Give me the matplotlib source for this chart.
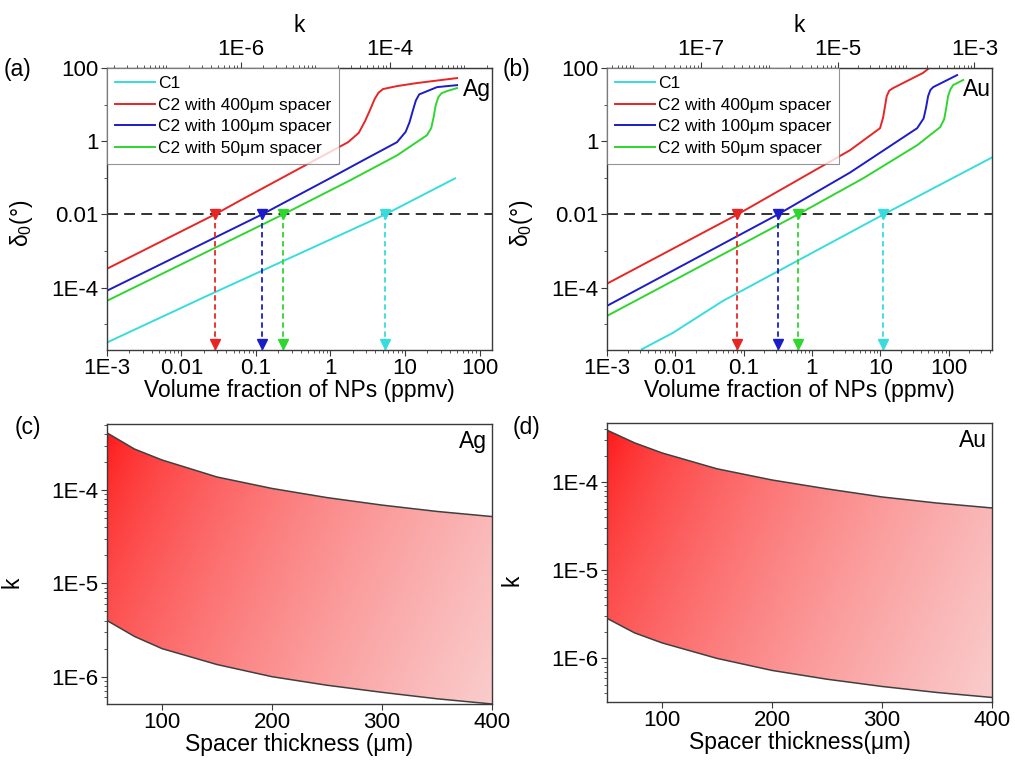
import numpy as np
import matplotlib.pyplot as plt
from matplotlib.patches import Polygon
from matplotlib.ticker import LogLocator, FixedLocator, NullFormatter

plt.rcParams['font.family'] = ['Liberation Sans', 'DejaVu Sans']
plt.rcParams['mathtext.fontset'] = 'custom'
plt.rcParams['mathtext.rm'] = 'Liberation Sans'
plt.rcParams['mathtext.it'] = 'Liberation Sans:italic'

# ---- data ----
labels = ['C1', 'C2 with 400\u03bcm spacer', 'C2 with 100\u03bcm spacer', 'C2 with 50\u03bcm spacer']
colors = ['#38dcdc', '#e82525', '#1c1cc8', '#2ed62e']
threshold = 0.01

# (a) Ag: delta0 vs volume fraction (ppmv)
ag_c1_x = [1e-3, 0.022, 5.4, 47]
ag_c1_y = [3.2e-6, 6.0e-5, 0.01, 0.097]
ag_400_x = [1e-3, 0.028, 0.061, 1.72, 2.4, 2.9, 3.39, 3.9, 4.4, 5.07, 7.8, 14.5, 50]
ag_400_y = [3.3e-4, 0.01, 0.024, 0.94, 1.7, 3.5, 7.1, 14, 21, 26.6, 32, 38.8, 53]
ag_100_x = [1e-3, 0.12, 0.98, 2.73, 7.8, 10.2, 11.5, 12.8, 14.0, 15.5, 18.5, 26.9, 50]
ag_100_y = [8.3e-5, 0.01, 0.097, 0.30, 0.94, 1.8, 3.3, 7.1, 13, 19, 22, 30, 34]
ag_50_x = [1e-3, 0.23, 1.82, 7.8, 19.7, 22.5, 24.2, 25.8, 28, 31, 36.6, 50]
ag_50_y = [4.4e-5, 0.01, 0.085, 0.41, 1.46, 2.3, 4.5, 9.5, 16, 20.5, 23.4, 28.3]
ag_cross = [5.4, 0.028, 0.12, 0.23]

# (b) Au
au_c1_x = [3.25e-3, 9.25e-3, 0.05, 11.1, 430]
au_c1_y = [2.1e-6, 5.9e-6, 4.4e-5, 0.01, 0.36]
au_400_x = [1e-3, 0.081, 3.61, 9.9, 11.0, 11.7, 12.4, 13.5, 15.4, 42, 52]
au_400_y = [1.29e-4, 0.01, 0.57, 2.27, 4.5, 9, 17, 24, 28.3, 73, 100]
au_100_x = [1e-3, 0.316, 3.61, 34.6, 43, 46.5, 50, 54, 59.3, 133]
au_100_y = [3.2e-5, 0.01, 0.14, 2.27, 4.2, 8, 17, 25, 30, 64]
au_50_x = [1e-3, 0.62, 5.6, 34.6, 75, 86, 92, 98, 106, 116, 163]
au_50_y = [1.7e-5, 0.01, 0.097, 0.78, 2.42, 4.0, 8, 17, 26, 34, 47]
au_cross = [11.1, 0.081, 0.316, 0.62]

# (c), (d): k range vs spacer thickness
spacer = [50, 75, 100, 150, 200, 250, 300, 350, 400]
ag_k_upper = [4.1e-4, 2.75e-4, 2.1e-4, 1.38e-4, 1.04e-4, 8.3e-5, 6.9e-5, 5.9e-5, 5.2e-5]
ag_k_lower = [4.0e-6, 2.7e-6, 2.0e-6, 1.35e-6, 1.0e-6, 8.1e-7, 6.8e-7, 5.8e-7, 5.1e-7]
au_k_upper = [3.9e-4, 2.8e-4, 2.15e-4, 1.42e-4, 1.06e-4, 8.4e-5, 6.8e-5, 5.8e-5, 5.1e-5]
au_k_lower = [2.85e-6, 1.95e-6, 1.5e-6, 1.0e-6, 7.3e-7, 5.8e-7, 4.8e-7, 4.1e-7, 3.6e-7]

FS = 16
LFS = 16.5
fig = plt.figure(figsize=(10.15, 7.76), dpi=100)
ax_a = fig.add_axes([0.1054, 0.549, 0.3793, 0.3634])
ax_b = fig.add_axes([0.598, 0.549, 0.3793, 0.3634])
ax_c = fig.add_axes([0.1054, 0.0928, 0.3793, 0.3608])
ax_d = fig.add_axes([0.598, 0.0954, 0.3793, 0.3595])


def style(ax):
    for s in ax.spines.values():
        s.set_color('#3a3a3a')
        s.set_linewidth(1.0)
    ax.tick_params(which='both', direction='out', labelsize=FS, top=False, right=False,
                   color='#3a3a3a', pad=2)
    ax.tick_params(which='major', length=4)
    ax.tick_params(which='minor', length=2.5)


def delta_panel(ax, curves, cross, xmax, k_scale, k_ticks, k_labels, tag):
    for (x, y), c, lab in zip(curves, colors, labels):
        ax.plot(x, y, color=c, lw=1.4, label=lab)
    ax.set_xscale('log')
    ax.set_yscale('log')
    ax.set_xlim(1e-3, xmax)
    ax.set_ylim(2e-6, 100)
    ax.axhline(threshold, color='#222222', lw=1.3, ls=(0, (6, 3.5)), zorder=1)
    ybot = ax.get_ylim()[0]
    for xc, c in zip(cross, colors):
        ax.plot([xc, xc], [threshold, ybot], color=c, lw=1.3, ls=(0, (3, 2)))
        ax.plot(xc, threshold, marker='v', color=c, ms=7)
        ax.plot(xc, ybot * 1.5, marker='v', color=c, ms=7)
    ax.set_xticks([1e-3, 1e-2, 1e-1, 1, 10, 100], labels=['1E-3', '0.01', '0.1', '1', '10', '100'])
    ax.xaxis.set_minor_locator(LogLocator(base=10, subs=np.arange(2, 10), numticks=30))
    ax.xaxis.set_minor_formatter(NullFormatter())
    ax.set_yticks([1e-4, 1e-2, 1, 100], labels=['1E-4', '0.01', '1', '100'])
    ax.yaxis.set_minor_locator(FixedLocator([1e-5, 1e-3, 1e-1, 10]))
    ax.yaxis.set_minor_formatter(NullFormatter())
    style(ax)
    ax.set_xlabel('Volume fraction of NPs (ppmv)', fontsize=LFS, labelpad=0)
    ax.set_ylabel('\u03b4$_0$(\u00b0)', fontsize=LFS)
    ax.yaxis.set_label_coords(-0.187, 0.45)
    sec = ax.secondary_xaxis('top', functions=(lambda v: v * k_scale, lambda k: k / k_scale))
    sec.set_xticks(k_ticks, labels=k_labels)
    sec.xaxis.set_minor_locator(LogLocator(base=10, subs=np.arange(1, 10), numticks=30))
    sec.xaxis.set_minor_formatter(NullFormatter())
    sec.tick_params(which='both', direction='out', labelsize=FS, color='#3a3a3a', pad=2)
    sec.tick_params(which='major', length=4)
    sec.tick_params(which='minor', length=2.5)
    sec.spines['top'].set_color('#3a3a3a')
    sec.set_xlabel('k', fontsize=LFS, labelpad=5)
    leg = ax.legend(loc='upper left', bbox_to_anchor=(0, 1), borderaxespad=0, fontsize=12.5,
                    frameon=True, fancybox=False, handlelength=2.3, handletextpad=0.2,
                    borderpad=0.45, labelspacing=0.38)
    leg.get_frame().set_edgecolor('#7a7a7a')
    leg.get_frame().set_linewidth(0.8)
    ax.text(0.998, 0.922, tag, transform=ax.transAxes, ha='right', va='center', fontsize=LFS)


delta_panel(ax_a, [(ag_c1_x, ag_c1_y), (ag_400_x, ag_400_y), (ag_100_x, ag_100_y), (ag_50_x, ag_50_y)],
            ag_cross, 147, 1.6e-5, [1e-6, 1e-4], ['1E-6', '1E-4'], 'Ag')
delta_panel(ax_b, [(au_c1_x, au_c1_y), (au_400_x, au_400_y), (au_100_x, au_100_y), (au_50_x, au_50_y)],
            au_cross, 430, 4.2e-6, [1e-7, 1e-5, 1e-3], ['1E-7', '1E-5', '1E-3'], 'Au')

# gradient image: strong red at top-left fading to pale pink at bottom-right
u, v = np.meshgrid(np.linspace(0, 1, 300), np.linspace(1, 0, 300))
t = np.clip(0.75 * u + 0.25 * (1 - v), 0, 1) ** 0.6
c0 = np.array([1.0, 0.05, 0.05])
c1 = np.array([0.98, 0.80, 0.80])
grad = c0[None, None, :] * (1 - t[..., None]) + c1[None, None, :] * t[..., None]


def k_panel(ax, lower, upper, ylim, xlabel, tag):
    ax.set_yscale('log')
    ax.set_xlim(50, 400)
    ax.set_ylim(*ylim)
    verts = list(zip(spacer, upper)) + list(zip(spacer[::-1], lower[::-1]))
    patch = Polygon(verts, closed=True, facecolor='none', edgecolor='none', transform=ax.transData)
    ax.add_patch(patch)
    im = ax.imshow(grad, extent=[0, 1, 0, 1], transform=ax.transAxes, aspect='auto', zorder=1)
    im.set_clip_path(patch)
    ax.plot(spacer, upper, color='#404040', lw=1.1, zorder=2)
    ax.plot(spacer, lower, color='#404040', lw=1.1, zorder=2)
    ax.set_xticks([100, 200, 300, 400])
    ax.set_yticks([1e-6, 1e-5, 1e-4], labels=['1E-6', '1E-5', '1E-4'])
    ax.yaxis.set_minor_locator(LogLocator(base=10, subs=np.arange(2, 10), numticks=30))
    ax.yaxis.set_minor_formatter(NullFormatter())
    style(ax)
    ax.set_xlabel(xlabel, fontsize=LFS, labelpad=0)
    ax.set_ylabel('k', fontsize=LFS)
    ax.yaxis.set_label_coords(-0.218, 0.436)
    ax.text(0.987, 0.936, tag, transform=ax.transAxes, ha='right', va='center', fontsize=LFS)


k_panel(ax_c, ag_k_lower, ag_k_upper, (5.1e-7, 5.1e-4), 'Spacer thickness (\u03bcm)', 'Ag')
k_panel(ax_d, au_k_lower, au_k_upper, (3.2e-7, 4.7e-4), 'Spacer thickness(\u03bcm)', 'Au')

for txt, x, y in [('(a)', 0.0177, 0.9098), ('(b)', 0.509, 0.9098), ('(c)', 0.0276, 0.4497), ('(d)', 0.519, 0.4497)]:
    fig.text(x, y, txt, ha='center', va='center', fontsize=LFS)

fig.savefig('out.png', dpi=100)
